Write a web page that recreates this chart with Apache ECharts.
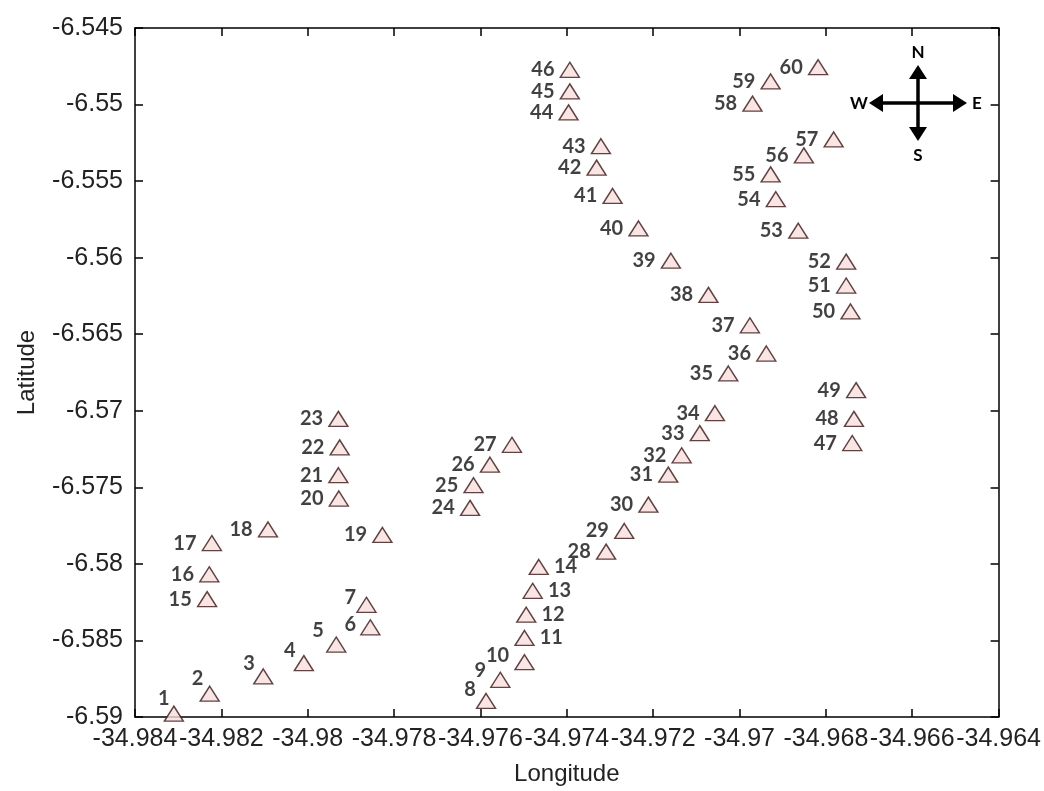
<!DOCTYPE html>
<html>
<head>
<meta charset="utf-8">
<script src="https://cdn.jsdelivr.net/npm/echarts@6/dist/echarts.min.js"></script>
<style>html,body{margin:0;padding:0;background:#fff}#c{width:1044px;height:791px}</style>
</head>
<body>
<div id="c"></div>
<script>
const pointIds = [1,2,3,4,5,6,7,8,9,10,11,12,13,14,15,16,17,18,19,20,21,22,23,24,25,26,27,28,29,30,31,32,33,34,35,36,37,38,39,40,41,42,43,44,45,46,47,48,49,50,51,52,53,54,55,56,57,58,59,60];
const longitudes = [-34.98310,-34.98227,-34.98103,-34.98009,-34.97934,-34.97855,-34.97864,-34.97587,-34.97554,-34.97498,
  -34.97498,-34.97494,-34.97479,-34.97465,-34.98233,-34.98228,-34.98222,-34.98092,-34.97827,-34.97928,
  -34.97929,-34.97926,-34.97929,-34.97624,-34.97616,-34.97578,-34.97527,-34.97309,-34.97267,-34.97211,
  -34.97165,-34.97134,-34.97092,-34.97057,-34.97026,-34.96938,-34.96976,-34.97072,-34.97159,-34.97234,
  -34.97294,-34.97331,-34.97321,-34.97396,-34.97393,-34.97393,-34.96739,-34.96735,-34.96730,-34.96743,
  -34.96753,-34.96753,-34.96864,-34.96916,-34.96928,-34.96851,-34.96782,-34.96970,-34.96928,-34.96818];
const latitudes = [-6.58978,-6.58848,-6.58735,-6.58648,-6.58527,-6.58414,-6.58267,-6.58895,-6.58757,-6.58642,
  -6.58484,-6.58332,-6.58176,-6.58020,-6.58230,-6.58068,-6.57864,-6.57775,-6.57811,-6.57573,
  -6.57421,-6.57239,-6.57053,-6.57634,-6.57486,-6.57352,-6.57222,-6.57920,-6.57785,-6.57613,
  -6.57417,-6.57291,-6.57146,-6.57016,-6.56756,-6.56626,-6.56442,-6.56243,-6.56020,-6.55809,
  -6.55597,-6.55412,-6.55272,-6.55051,-6.54914,-6.54773,-6.57211,-6.57053,-6.56865,-6.56351,
  -6.56182,-6.56026,-6.55824,-6.55618,-6.55456,-6.55332,-6.55228,-6.54994,-6.54849,-6.54756];
const xTicks = {min: -34.984, max: -34.964, step: 0.002};
const yTicks = {min: -6.59, max: -6.545, step: 0.005};
const axisNames = {x: 'Longitude', y: 'Latitude'};

// label placement (style only)
const rightLabelIds = [11,12,13,14];
const labelOffsets = {1:[11,-15],2:[9,-15],3:[7,-13],4:[7,-13],5:[3,-14],6:[1,-3],7:[5,-7],8:[5,-11],9:[1,-9],10:[0,-7]};

const data = pointIds.map((id, i) => {
  const item = {value: [longitudes[i], latitudes[i], id]};
  if (rightLabelIds.includes(id)) item.label = {position: 'right'};
  else if (labelOffsets[id]) item.label = {position: 'left', offset: labelOffsets[id]};
  return item;
});

const fmt = v => String(+(+v).toFixed(3));
const tickFont = {fontFamily: 'Liberation Sans', fontSize: 25, color: '#222'};

const chart = echarts.init(document.getElementById('c'), null, {renderer: 'canvas'});
chart.setOption({
  animation: false,
  backgroundColor: '#fff',
  grid: {left: 135, right: 44, top: 28, bottom: 71, containLabel: false},
  xAxis: [{
    type: 'value', min: xTicks.min, max: xTicks.max, interval: xTicks.step,
    name: axisNames.x, nameLocation: 'middle', nameGap: 45,
    nameTextStyle: {fontFamily: 'Liberation Sans', fontSize: 24, color: '#222'},
    axisLine: {show: true, onZero: false, lineStyle: {color: '#000', width: 1.5}},
    axisTick: {show: true, inside: true, length: 8, lineStyle: {color: '#000', width: 1.5}},
    axisLabel: Object.assign({formatter: fmt, margin: 10, hideOverlap: false, showMinLabel: true, showMaxLabel: true}, tickFont),
    splitLine: {show: false}
  }, {
    type: 'value', position: 'top', min: xTicks.min, max: xTicks.max, interval: xTicks.step,
    axisLine: {show: true, onZero: false, lineStyle: {color: '#000', width: 1.5}},
    axisTick: {show: true, inside: true, length: 8, lineStyle: {color: '#000', width: 1.5}},
    axisLabel: {show: false}, splitLine: {show: false}
  }],
  yAxis: [{
    type: 'value', min: yTicks.min, max: yTicks.max, interval: yTicks.step,
    name: axisNames.y, nameLocation: 'middle', nameGap: 96, nameRotate: 90,
    nameTextStyle: {fontFamily: 'Liberation Sans', fontSize: 24, color: '#222'},
    axisLine: {show: true, onZero: false, lineStyle: {color: '#000', width: 1.5}},
    axisTick: {show: true, inside: true, length: 8, lineStyle: {color: '#000', width: 1.5}},
    axisLabel: Object.assign({formatter: fmt, margin: 12, hideOverlap: false, showMinLabel: true, showMaxLabel: true}, tickFont),
    splitLine: {show: false}
  }, {
    type: 'value', position: 'right', min: yTicks.min, max: yTicks.max, interval: yTicks.step,
    axisLine: {show: true, onZero: false, lineStyle: {color: '#000', width: 1.5}},
    axisTick: {show: true, inside: true, length: 8, lineStyle: {color: '#000', width: 1.5}},
    axisLabel: {show: false}, splitLine: {show: false}
  }],
  series: [{
    type: 'scatter',
    xAxisIndex: 0, yAxisIndex: 0,
    clip: false,
    symbol: 'triangle',
    symbolSize: [19, 15],
    itemStyle: {color: '#f9dede', borderColor: '#3a1515', borderWidth: 1.4},
    label: {
      show: true, position: 'left', distance: 5,
      formatter: p => String(p.value[2]),
      fontFamily: 'Lato', fontWeight: 'bold', fontSize: 20, color: '#111'
    },
    data: data
  }],
  graphic: [
    {type: 'line', shape: {x1: 880, y1: 103, x2: 957, y2: 103}, style: {stroke: '#000', lineWidth: 3.5}},
    {type: 'line', shape: {x1: 918, y1: 76, x2: 918, y2: 131}, style: {stroke: '#000', lineWidth: 3.5}},
    {type: 'polygon', shape: {points: [[869,103],[883,94],[883,112]]}, style: {fill: '#000'}},
    {type: 'polygon', shape: {points: [[967,103],[953,94],[953,112]]}, style: {fill: '#000'}},
    {type: 'polygon', shape: {points: [[918,65],[909,79],[927,79]]}, style: {fill: '#000'}},
    {type: 'polygon', shape: {points: [[918,141],[909,127],[927,127]]}, style: {fill: '#000'}},
    {type: 'text', x: 918, y: 53, style: {text: 'N', fill: '#000', font: 'bold 17px Lato', align: 'center', verticalAlign: 'middle'}},
    {type: 'text', x: 859, y: 104, style: {text: 'W', fill: '#000', font: 'bold 17px Lato', align: 'center', verticalAlign: 'middle'}},
    {type: 'text', x: 977, y: 104, style: {text: 'E', fill: '#000', font: 'bold 17px Lato', align: 'center', verticalAlign: 'middle'}},
    {type: 'text', x: 918, y: 156, style: {text: 'S', fill: '#000', font: 'bold 17px Lato', align: 'center', verticalAlign: 'middle'}}
  ]
});
</script>
</body>
</html>
